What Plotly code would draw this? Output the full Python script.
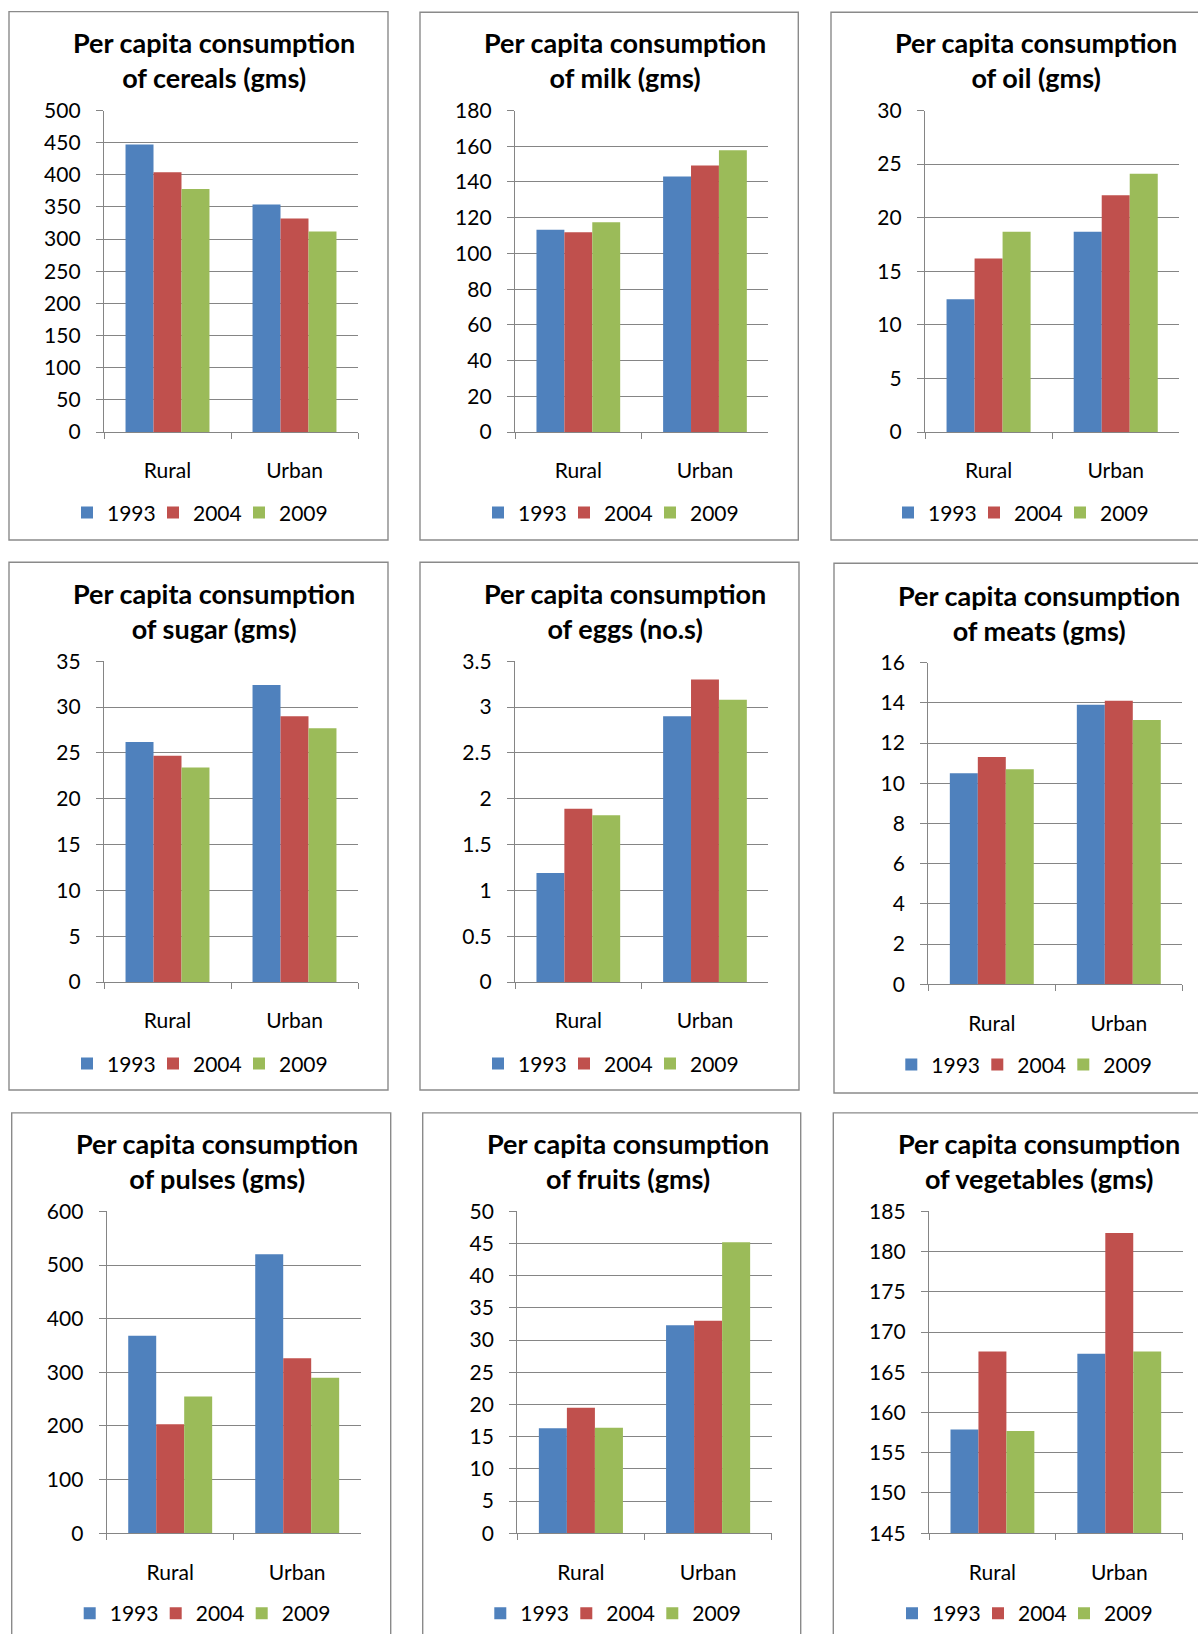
import plotly.graph_objects as go

# Page size in pixels
W, H = 1198, 1634

categories = ["Rural", "Urban"]
years = ["1993", "2004", "2009"]
year_colors = ["#4F81BD", "#C0504D", "#9BBB59"]

# Per capita consumption, [Rural, Urban] for each survey year
cereals = {"1993": [447, 354], "2004": [404, 332], "2009": [378, 312]}
milk = {"1993": [113.3, 143.1], "2004": [111.9, 149.2], "2009": [117.4, 157.8]}
oil = {"1993": [12.4, 18.7], "2004": [16.2, 22.1], "2009": [18.7, 24.1]}
sugar = {"1993": [26.2, 32.4], "2004": [24.7, 29.0], "2009": [23.4, 27.7]}
eggs = {"1993": [1.19, 2.90], "2004": [1.89, 3.30], "2009": [1.82, 3.08]}
meats = {"1993": [10.5, 13.9], "2004": [11.3, 14.1], "2009": [10.7, 13.15]}
pulses = {"1993": [368, 520], "2004": [203, 326], "2009": [255, 290]}
fruits = {"1993": [16.3, 32.3], "2004": [19.5, 33.0], "2009": [16.4, 45.2]}
vegetables = {"1993": [157.9, 167.3], "2004": [167.6, 182.3], "2009": [157.7, 167.6]}

titles = [
    "Per capita consumption<br>of cereals (gms)",
    "Per capita consumption<br>of milk (gms)",
    "Per capita consumption<br>of oil (gms)",
    "Per capita consumption<br>of sugar (gms)",
    "Per capita consumption<br>of eggs (no.s)",
    "Per capita consumption<br>of meats (gms)",
    "Per capita consumption<br>of pulses (gms)",
    "Per capita consumption<br>of fruits (gms)",
    "Per capita consumption<br>of vegetables (gms)",
]
datasets = [cereals, milk, oil, sugar, eggs, meats, pulses, fruits, vegetables]
y_ranges = [[0, 500], [0, 180], [0, 30], [0, 35], [0, 3.5], [0, 16], [0, 600], [0, 50], [145, 185]]
y_steps = [50, 20, 5, 5, 0.5, 2, 100, 5, 5]

# Layout geometry in pixels: plot area (x0, x1, y0, y1), frame (x0, x1, y0, y1),
# title centre (x, y) and legend row centre y
geometry = [
    dict(plot=(104, 358, 110.5, 432.1), frame=(9, 388, 11.6, 540), title=(213.5, 60), legend_y=512.8),
    dict(plot=(515, 768.3, 110.5, 432.1), frame=(420, 798.3, 12.3, 540), title=(624.5, 60), legend_y=512.8),
    dict(plot=(925, 1179.3, 110.5, 432.1), frame=(831, 1215, 12.3, 540), title=(1035.5, 60), legend_y=512.8),
    dict(plot=(104, 358, 661.2, 982.1), frame=(9, 388, 562.3, 1090), title=(213.5, 610.5), legend_y=1063.9),
    dict(plot=(515, 768.3, 661.2, 982.1), frame=(420, 799, 562.3, 1090), title=(624.5, 610.5), legend_y=1063.9),
    dict(plot=(928.3, 1182.3, 662.6, 984.2), frame=(834, 1215, 563.3, 1093), title=(1038.5, 612.8), legend_y=1064.9),
    dict(plot=(106.7, 360.7, 1211.4, 1533.2), frame=(11.7, 390.7, 1112.9, 1650), title=(216.5, 1161.3), legend_y=1613.6),
    dict(plot=(517.3, 771.7, 1211.4, 1533.2), frame=(422.7, 800.7, 1112.9, 1650), title=(627.5, 1161.3), legend_y=1613.6),
    dict(plot=(929, 1182.7, 1211.4, 1533.2), frame=(833.3, 1215, 1112.9, 1650), title=(1038.5, 1161.3), legend_y=1613.6),
]

FONT = "Lato, 'Open Sans', sans-serif"
GRID = "#858585"


def fx(px):
    return px / W


def fy(py):
    return 1 - py / H


fig = go.Figure()
shapes = []
annotations = []
layout = dict(
    width=W,
    height=H,
    margin=dict(l=0, r=0, t=0, b=0, pad=0, autoexpand=False),
    autosize=False,
    paper_bgcolor="white",
    plot_bgcolor="white",
    barmode="group",
    bargap=0.339,
    bargroupgap=0,
    font=dict(family=FONT, size=21, color="#000000"),
)

for i, (data, title, yr, step, geo) in enumerate(zip(datasets, titles, y_ranges, y_steps, geometry)):
    n = i + 1
    sfx = "" if n == 1 else str(n)
    leg = "legend" + sfx
    for k, (year, color) in enumerate(zip(years, year_colors)):
        fig.add_trace(go.Bar(
            x=categories, y=data[year], name=year,
            marker=dict(color=color, line=dict(width=0)),
            xaxis="x" + sfx, yaxis="y" + sfx, legend=leg,
            # the last entry gets extra room so its label is not clipped
            legendwidth=41 if k < len(years) - 1 else 60,
            hoverinfo="x+y+name",
        ))

    x0, x1, y0, y1 = geo["plot"]
    layout["xaxis" + sfx] = dict(
        domain=[fx(x0), fx(x1)], anchor="y" + sfx, automargin=False,
        type="category", categoryorder="array", categoryarray=categories,
        showgrid=False, zeroline=False,
        showline=True, linecolor=GRID, linewidth=1.3,
        ticks="outside", tickson="boundaries", ticklen=6, tickwidth=1.3, tickcolor=GRID,
        ticklabelstandoff=20,
        tickfont=dict(family=FONT, size=21, color="#000000"),
        fixedrange=True,
    )
    layout["yaxis" + sfx] = dict(
        domain=[fy(y1), fy(y0)], anchor="x" + sfx, automargin=False,
        range=yr, dtick=step, tick0=0,
        showgrid=True, gridcolor=GRID, gridwidth=1.4, zeroline=False,
        showline=True, linecolor=GRID, linewidth=1.3,
        ticks="outside", ticklen=7, tickwidth=1.4, tickcolor=GRID,
        ticklabelstandoff=11,
        tickfont=dict(family=FONT, size=21, color="#000000"),
        fixedrange=True,
    )
    layout[leg] = dict(
        orientation="h",
        x=fx(x0 - 37), xanchor="left",
        y=fy(geo["legend_y"]), yanchor="middle",
        entrywidth=41, entrywidthmode="pixels",
        traceorder="normal",
        bgcolor="rgba(0,0,0,0)", borderwidth=0,
        font=dict(family=FONT, size=21, color="#000000"),
        itemclick=False, itemdoubleclick=False,
    )

    fx0, fx1, fy0, fy1 = geo["frame"]
    shapes.append(dict(
        type="rect", xref="paper", yref="paper",
        x0=fx(fx0), x1=fx(fx1), y0=fy(fy1), y1=fy(fy0),
        line=dict(color="#8a8a8a", width=1.4), fillcolor="rgba(0,0,0,0)", layer="below",
    ))

    tx, ty = geo["title"]
    annotations.append(dict(
        text=title, xref="paper", yref="paper", x=fx(tx), y=fy(ty),
        xanchor="center", yanchor="middle", showarrow=False, align="center",
        font=dict(family=FONT, size=27, color="#000000", weight="bold"),
    ))

layout["shapes"] = shapes
layout["annotations"] = annotations
fig.update_layout(**layout)

fig.write_html("out.html", config={"displayModeBar": False})
